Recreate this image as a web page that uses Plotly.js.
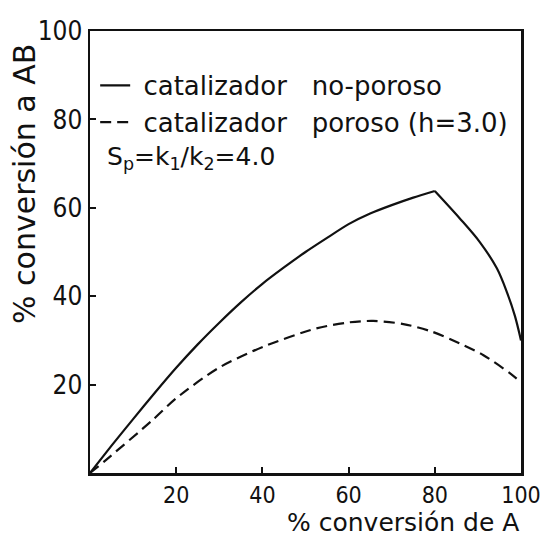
<!DOCTYPE html>
<html>
<head>
<meta charset="utf-8">
<script src="https://cdn.plot.ly/plotly-3.0.1.min.js"></script>
<style>html,body{margin:0;padding:0;background:#fff;}#chart{width:544px;height:540px;}</style>
</head>
<body>
<div id="chart"></div>
<script>
// Data
const xNoPoroso = [0, 5, 10, 15, 20, 25, 30, 35, 40, 45, 50, 55, 60, 65, 70, 75, 80, 85.8, 90.4, 94.4, 96.7, 98.6, 100];
const yNoPoroso = [0, 6.2, 12.2, 18.1, 23.8, 29.1, 34.0, 38.6, 42.8, 46.5, 50.0, 53.2, 56.3, 58.7, 60.6, 62.3, 63.8, 57.6, 52.3, 46.3, 41.0, 35.5, 30.0];
const peakIndex = 16; // sharp corner of the solid curve at x = 80
const xPoroso = [0, 3.4, 14.2, 20, 29.7, 40.3, 52.5, 60.3, 65.7, 72.7, 79.3, 85.8, 91.2, 97.4, 100];
const yPoroso = [0, 2.7, 11.7, 16.9, 23.7, 28.6, 32.7, 34.1, 34.4, 33.7, 32.0, 29.3, 26.7, 22.6, 20.5];
const tickVals = [20, 40, 60, 80, 100];
const tickLabels = ['20', '40', '60', '80', '100'];
const seriesNames = ['&nbsp;catalizador&nbsp;&nbsp;&nbsp;no-poroso', '&nbsp;catalizador&nbsp;&nbsp;&nbsp;poroso (h=3.0)'];

const FONT = '"DejaVu Sans", sans-serif';
const TICKFONT = '"DejaVu Sans Condensed", "DejaVu Sans", sans-serif';

const solidUp = {color: '#111', width: 2.2, shape: 'spline', smoothing: 0.6};
const solidDown = {color: '#111', width: 2.2, shape: 'spline', smoothing: 0.9};
const traces = [
  {x: xNoPoroso.slice(0, peakIndex + 1), y: yNoPoroso.slice(0, peakIndex + 1), mode: 'lines',
   name: seriesNames[0], legendgroup: 'a', line: solidUp},
  {x: xNoPoroso.slice(peakIndex), y: yNoPoroso.slice(peakIndex), mode: 'lines',
   name: seriesNames[0], legendgroup: 'a', showlegend: false, line: solidDown},
  {x: xPoroso, y: yPoroso, mode: 'lines', name: seriesNames[1], legendgroup: 'b',
   line: {color: '#111', width: 2.2, dash: '11px,6px', shape: 'spline', smoothing: 0.8}}
];

const axisCommon = {
  range: [0, 100], tickvals: tickVals, ticktext: tickLabels,
  ticks: 'inside', ticklen: 6, tickwidth: 2, tickcolor: '#111',
  showline: true, linewidth: 2.5, linecolor: '#111', mirror: true,
  showgrid: false, zeroline: false, ticklabeloverflow: 'allow',
  tickfont: {family: TICKFONT, size: 26, color: '#111'}
};

const layout = {
  width: 544, height: 540,
  margin: {l: 90, r: 23, t: 31, b: 67},
  paper_bgcolor: '#fff', plot_bgcolor: '#fff',
  font: {family: FONT, color: '#111'},
  showlegend: true,
  legend: {x: 0.012, y: 0.93, xanchor: 'left', yanchor: 'top', bgcolor: 'rgba(0,0,0,0)',
           font: {family: FONT, size: 26, color: '#111'}, tracegroupgap: 0, itemwidth: 30},
  xaxis: Object.assign({}, axisCommon, {ticklabelstandoff: 0, tickfont: {family: TICKFONT, size: 23, color: '#111'}}),
  yaxis: Object.assign({}, axisCommon),
  annotations: [
    {text: 'S<sub>p</sub>=k<sub>1</sub>/k<sub>2</sub>=4.0', xref: 'paper', yref: 'paper',
     x: 0.035, y: 0.712, xanchor: 'left', yanchor: 'middle', showarrow: false,
     font: {family: FONT, size: 25, color: '#111'}},
    {text: '% conversión de A', xref: 'paper', yref: 'paper', x: 1.0, y: -0.113,
     xanchor: 'right', yanchor: 'middle', showarrow: false,
     font: {family: FONT, size: 25, color: '#111'}},
    {text: '% conversión a AB', xref: 'paper', yref: 'paper', x: -0.152, y: 0.655,
     xanchor: 'center', yanchor: 'middle', textangle: -90, showarrow: false,
     font: {family: FONT, size: 30, color: '#111'}}
  ]
};

Plotly.newPlot('chart', traces, layout, {displayModeBar: false, staticPlot: true});
</script>
</body>
</html>
